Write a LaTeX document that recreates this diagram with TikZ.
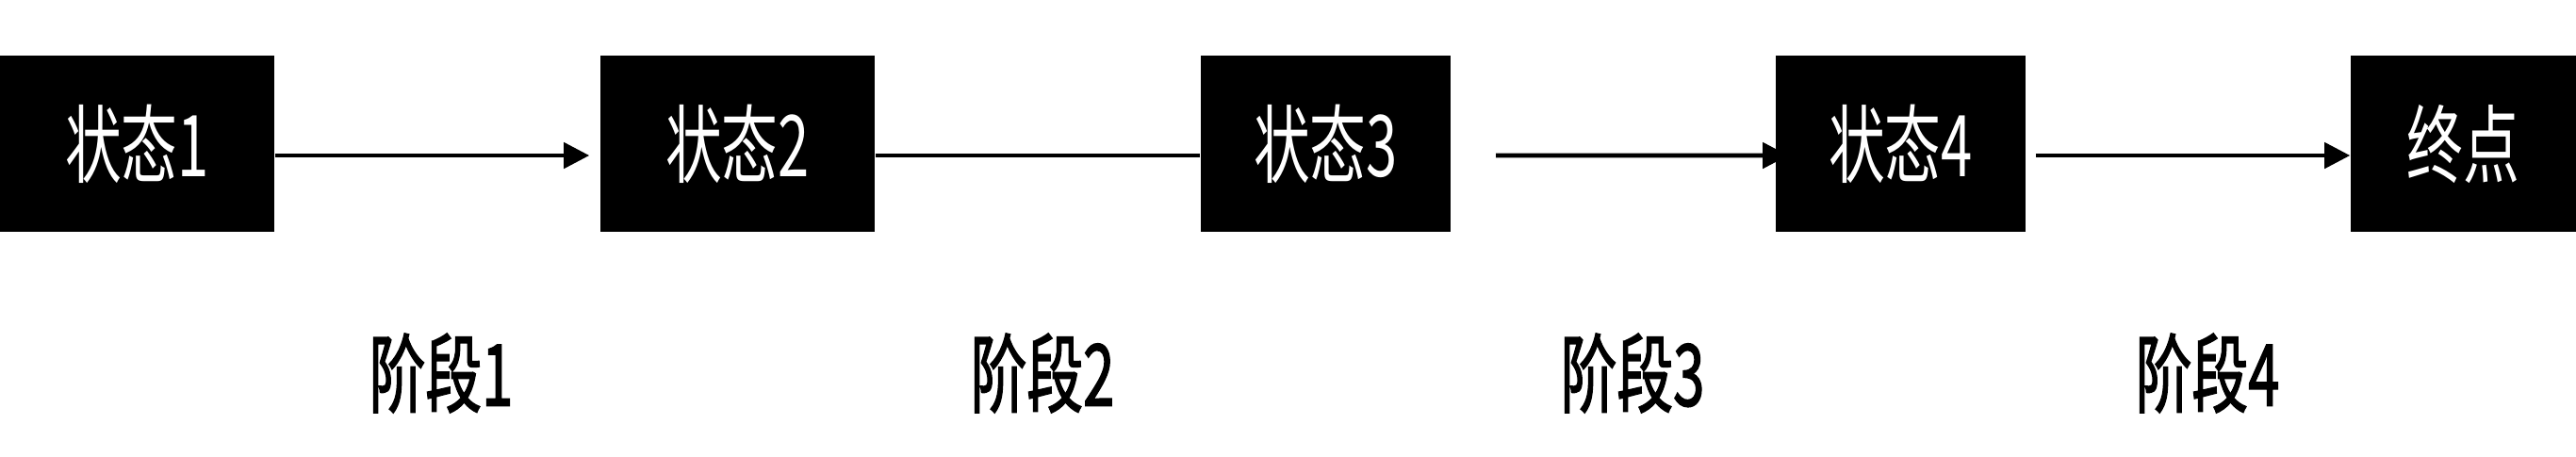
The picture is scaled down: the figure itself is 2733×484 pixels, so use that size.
\documentclass[tikz,border=0pt]{standalone}
\usepackage{fontspec}
\usepackage{graphicx}
\newfontfamily\cjk{Noto Sans CJK SC}
\newfontfamily\cjkb[FakeBold=2]{Noto Sans CJK SC}
\usetikzlibrary{arrows.meta,calc}
\pgfdeclarelayer{bg}
\pgfsetlayers{bg,main}
\tikzset{
  statebox/.style={fill=black, text=white, inner sep=0pt, minimum height=1.87cm, font=\cjk\fontsize{25pt}{30pt}\selectfont},
  phaselabel/.style={inner sep=0pt, text=black, font=\cjkb\fontsize{25pt}{30pt}\selectfont},
  conn/.style={line width=1.3pt, black},
  arr/.style={conn, -{Triangle[length=0.27cm, width=0.27cm]}},
}
\newcommand{\sq}[1]{\scalebox{0.68}[1.03]{#1}}
\begin{document}
\begin{tikzpicture}[x=0.01cm, y=-0.01cm]
\useasboundingbox (0,0) rectangle (2733,484);
\node[statebox, minimum width=2.91cm] (s1) at (145.5,152.5) {\sq{状态1}};
\node[statebox, minimum width=2.91cm] (s2) at (782.5,152.5) {\sq{状态2}};
\node[statebox, minimum width=2.65cm] (s3) at (1406.5,152.5) {\sq{状态3}};
\node[statebox, minimum width=2.65cm] (s4) at (2016.5,152.5) {\sq{状态4}};
\node[statebox, minimum width=2.39cm] (s5) at (2613.5,152.5) {\sq{终点}};
\node[phaselabel] (p1) at (468,396) {\sq{阶段1}};
\node[phaselabel] (p2) at (1106,396) {\sq{阶段2}};
\node[phaselabel] (p3) at (1732,396) {\sq{阶段3}};
\node[phaselabel] (p4) at (2342,396) {\sq{阶段4}};
\coordinate (a3s) at (1587,165);
\begin{pgfonlayer}{bg}
\draw[arr, shorten >=0.11cm] ([yshift=-0.125cm]s1.east) -- ([yshift=-0.125cm]s2.west);
\draw[conn] ([yshift=-0.125cm]s2.east) -- ([yshift=-0.125cm]s3.west);
\draw[arr] (a3s) -- ([yshift=-0.125cm, xshift=0.14cm]s4.west);
\draw[arr, shorten <=0.10cm] ([yshift=-0.125cm]s4.east) -- ([yshift=-0.125cm]s5.west);
\end{pgfonlayer}
\end{tikzpicture}
\end{document}
